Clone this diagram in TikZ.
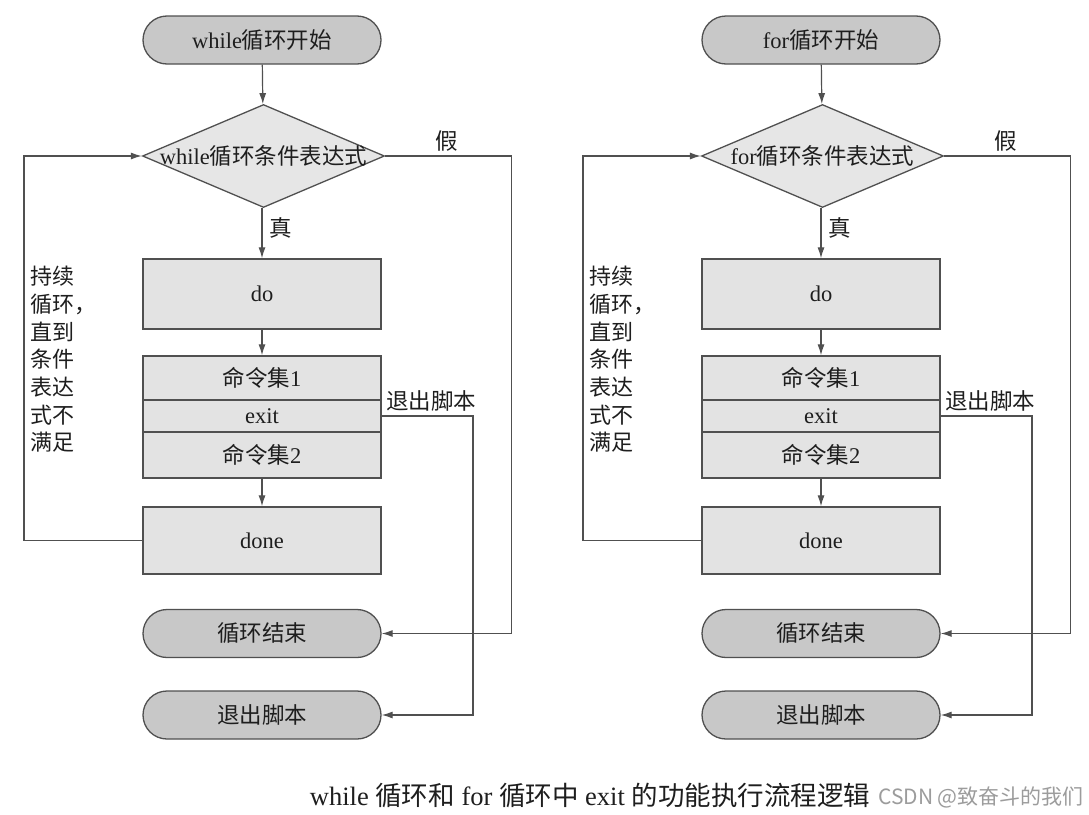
\documentclass[tikz,border=0pt]{standalone}
\usepackage{fontspec}
\setmainfont{Liberation Serif}
\newfontfamily\cjk{Noto Sans CJK SC}
\usetikzlibrary{shapes.geometric,arrows.meta}
\definecolor{termfill}{HTML}{C8C8C8}
\definecolor{diafill}{HTML}{E6E6E6}
\definecolor{boxfill}{HTML}{E3E3E3}
\definecolor{edgecol}{HTML}{505050}
\definecolor{wmcol}{HTML}{9C9C9C}
\definecolor{txtcol}{HTML}{1E1E1E}
\tikzset{
  term/.style={draw=edgecol, line width=1.3pt, fill=termfill, rounded corners=24pt,
    minimum width=238pt, minimum height=48pt, inner sep=0pt, text=txtcol,
    font=\fontsize{22.5}{25}\selectfont},
  dia/.style={draw=edgecol, line width=1.3pt, fill=diafill, diamond,
    minimum width=242pt, minimum height=103pt, inner sep=0pt},
  diatext/.style={inner sep=0pt, text=txtcol, font=\fontsize{22.5}{25}\selectfont},
  proc/.style={draw=edgecol, line width=1.3pt, fill=boxfill, minimum width=238pt,
    inner sep=0pt, text=txtcol, font=\fontsize{22.5}{25}\selectfont},
  conn/.style={draw=edgecol, line width=1.2pt, -{Latex[length=11pt,width=7pt]}},
  lbl/.style={inner sep=0pt, text=txtcol, font=\cjk\fontsize{22.5}{25}\selectfont},
  sidelbl/.style={inner sep=0pt, text=txtcol, align=left, anchor=north west,
    font=\cjk\fontsize{22}{27.7}\selectfont}
}
\newcommand\loopchart[3]{%
\begin{scope}[xshift=#3pt]
  \node[term] (#1s) at (262,40) {#2{\cjk 循环开始}};
  \node[dia] (#1d) at (263.5,156) {};
  \node[diatext] (#1dt) at (#1d) {#2{\cjk 循环条件表达式}};
  \node[proc, minimum height=70pt] (#1do) at (262,294) {do};
  \node[proc, minimum height=44pt] (#1ca) at (262,378) {{\cjk 命令集}1};
  \node[proc, minimum height=32pt] (#1ex) at (262,416) {exit};
  \node[proc, minimum height=46pt] (#1cb) at (262,455) {{\cjk 命令集}2};
  \node[proc, minimum height=67pt] (#1dn) at (262,540.5) {done};
  \node[term] (#1end) at (262,633.5) {\cjk 循环结束};
  \node[term] (#1quit) at (262,715) {\cjk 退出脚本};
  \coordinate (#1Lx) at (24,300);
  \coordinate (#1Rx) at (511.5,400);
  \coordinate (#1Ex) at (473,500);
  \draw[conn] (#1s) -- (#1d);
  \draw[conn] (#1d.south -| #1s) -- (#1do);
  \draw[conn] (#1do) -- (#1ca);
  \draw[conn] (#1cb) -- (#1dn);
  \draw[conn] (#1dn.west) -| (#1Lx) |- (#1d.west);
  \draw[conn] (#1d.east) -| (#1Rx) |- (#1end.east);
  \draw[conn] (#1ex.east) -| (#1Ex) |- (#1quit.east);
  \node[lbl] (#1true) at (281,228) {真};
  \node[lbl] (#1false) at (447,141) {假};
  \node[lbl, anchor=west] (#1exl) at (386,401) {退出脚本};
  \node[sidelbl] (#1side) at (30,266) {持续\\循环，\\直到\\条件\\表达\\式不\\满足};
\end{scope}}
\begin{document}
\begin{tikzpicture}[x=1pt,y=-1pt]
  \fill[white] (0,0) rectangle (1089,814);
  \useasboundingbox (0,0) rectangle (1089,814);
  \loopchart{w}{while}{0}
  \loopchart{f}{for}{559}
  \node[inner sep=0pt, text=txtcol, font=\fontsize{26.5}{29}\selectfont] (cap) at (590,795)
    {while {\cjk 循环和} for {\cjk 循环中} exit {\cjk 的功能执行流程逻辑}};
  \node[inner sep=0pt, anchor=west, text=wmcol, font=\cjk\fontsize{21}{23}\selectfont] (wm) at (878,797)
    {CSDN @致奋斗的我们};
\end{tikzpicture}
\end{document}
